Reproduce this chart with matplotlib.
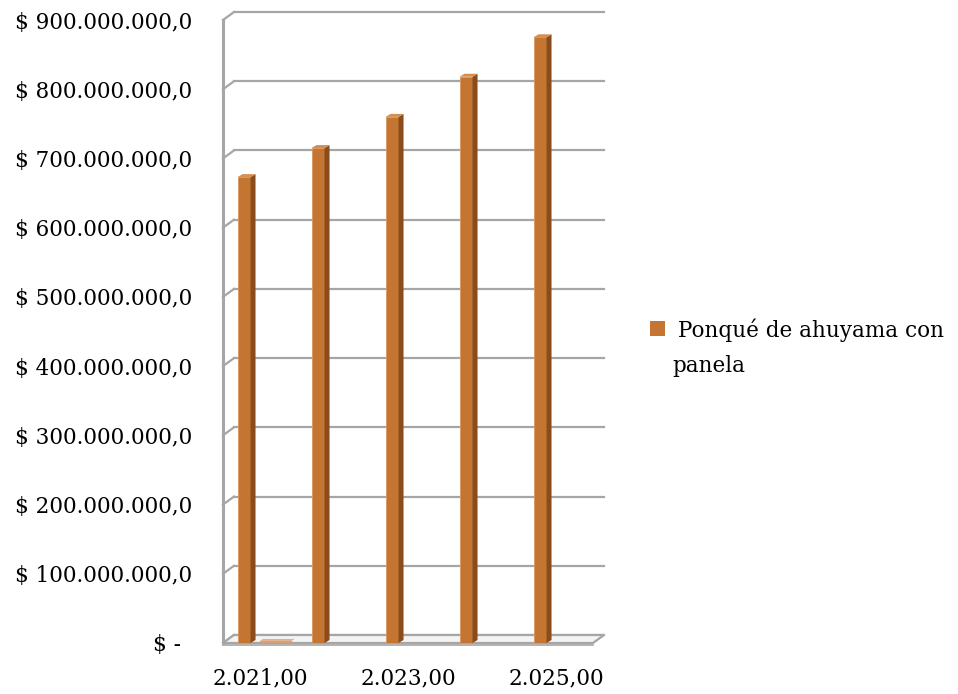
import matplotlib
matplotlib.use("Agg")
import matplotlib.pyplot as plt
from matplotlib.patches import Polygon, Rectangle

# ---------------- data ----------------
categories = ["2.021,00", "2.022,00", "2.023,00", "2.024,00", "2.025,00"]
shown_tick_labels = ["2.021,00", "", "2.023,00", "", "2.025,00"]
series_name = "Ponqué de ahuyama con panela"
values = [673_000_000, 715_000_000, 760_000_000, 818_000_000, 875_000_000]
sliver_values = [3_000_000, 0, 0, 0, 0]
y_ticks = [0, 100_000_000, 200_000_000, 300_000_000, 400_000_000,
           500_000_000, 600_000_000, 700_000_000, 800_000_000, 900_000_000]
y_tick_labels = ["$ -\u2002", "$ 100.000.000,0", "$ 200.000.000,0", "$ 300.000.000,0",
                 "$ 400.000.000,0", "$ 500.000.000,0", "$ 600.000.000,0",
                 "$ 700.000.000,0", "$ 800.000.000,0", "$ 900.000.000,0"]

W, H = 958, 694
fig = plt.figure(figsize=(W / 100, H / 100), dpi=100)
plt.rcParams['font.family'] = ['DejaVu Serif']

ax_l, ax_r, ax_b, ax_t = 223, 593, 643, 20
ax = fig.add_axes([ax_l / W, (H - ax_b) / H, (ax_r - ax_l) / W, (ax_b - ax_t) / H])
xmin, xmax = -0.5, len(categories) - 0.5
ymin, ymax = 0, 900_000_000
ax.set_xlim(xmin, xmax)
ax.set_ylim(ymin, ymax)
for s in ax.spines.values():
    s.set_visible(False)

sx = (xmax - xmin) / (ax_r - ax_l)
sy = (ymax - ymin) / (ax_b - ax_t)

def off(x, y, dx, dy):
    return (x + dx * sx, y + dy * sy)

grid_c = '#a6a6a6'
DX, DY = 11, 8  # depth of the back wall in px

# back wall gridlines + left wall jogs
for v in y_ticks:
    p0 = off(xmin, v, DX, DY)
    p1 = off(xmax, v, DX, DY)
    ax.plot([p0[0], p1[0]], [p0[1], p1[1]], color=grid_c, lw=1.6, clip_on=False, zorder=1)
    ax.plot([xmin, p0[0]], [v, p0[1]], color=grid_c, lw=1.6, clip_on=False, zorder=1)
# left wall front edge
ax.plot([xmin, xmin], [ymin, ymax], color=grid_c, lw=2.2, clip_on=False, zorder=1)

# floor
floor = Polygon([(xmin, ymin), (xmax, ymin), off(xmax, ymin, DX, DY), off(xmin, ymin, DX, DY)],
                closed=True, facecolor='#f4f4f4', edgecolor=grid_c, lw=1.6, clip_on=False, zorder=2)
ax.add_patch(floor)
ax.plot([xmin, xmax], [off(0, ymin, 0, -2)[1]] * 2, color=grid_c, lw=1.2, clip_on=False, zorder=2)

front_c, side_c, top_c = '#c47532', '#8a4c1c', '#d58e52'
bw = 0.176
bo = -0.216
bdx, bdy = 5, 3

# small flat element near the first category
for i, v in enumerate(sliver_values):
    if v <= 0:
        continue
    x0, x1 = i + 0.0, i + 0.43
    ax.add_patch(Polygon([(x0, v), (x1, v), off(x1, v, 3, 2), off(x0, v, 3, 2)],
                         closed=True, facecolor='#e2b08c', edgecolor='none', clip_on=False, zorder=3))
    ax.bar(i + 0.215, v, width=0.43, color='#d9a078', zorder=3)

for i, v in enumerate(values):
    xc = i + bo
    x0, x1 = xc - bw / 2, xc + bw / 2
    ax.bar(xc, v, width=bw, color=front_c, edgecolor='#d9965e', lw=0.6, zorder=4)
    ax.add_patch(Polygon([(x1, 0), (x1, v), off(x1, v, bdx, bdy), off(x1, 0, bdx, bdy)],
                         closed=True, facecolor=side_c, edgecolor='none', clip_on=False, zorder=4))
    ax.add_patch(Polygon([(x0, v), (x1, v), off(x1, v, bdx, bdy), off(x0, v, bdx, bdy)],
                         closed=True, facecolor=top_c, edgecolor='none', clip_on=False, zorder=4))

ax.set_yticks(y_ticks)
ax.set_yticklabels(y_tick_labels, fontsize=15.5)
ax.tick_params(axis='y', length=0, pad=22.3)
ax.set_xticks(range(len(categories)))
ax.set_xticklabels(shown_tick_labels, fontsize=15.5)
ax.tick_params(axis='x', length=0, pad=17.5)

# legend
fig.patches.append(Rectangle((650 / W, (H - 336) / H), 15 / W, 15 / H,
                             transform=fig.transFigure, facecolor=front_c, edgecolor='none'))
name_words = series_name.split(" ")
fig.text(678 / W, (H - 337) / H, " ".join(name_words[:4]), fontsize=15.5, va='baseline', ha='left')
fig.text(672 / W, (H - 372) / H, " ".join(name_words[4:]), fontsize=15.5, va='baseline', ha='left')

fig.savefig("out.png", dpi=100)
